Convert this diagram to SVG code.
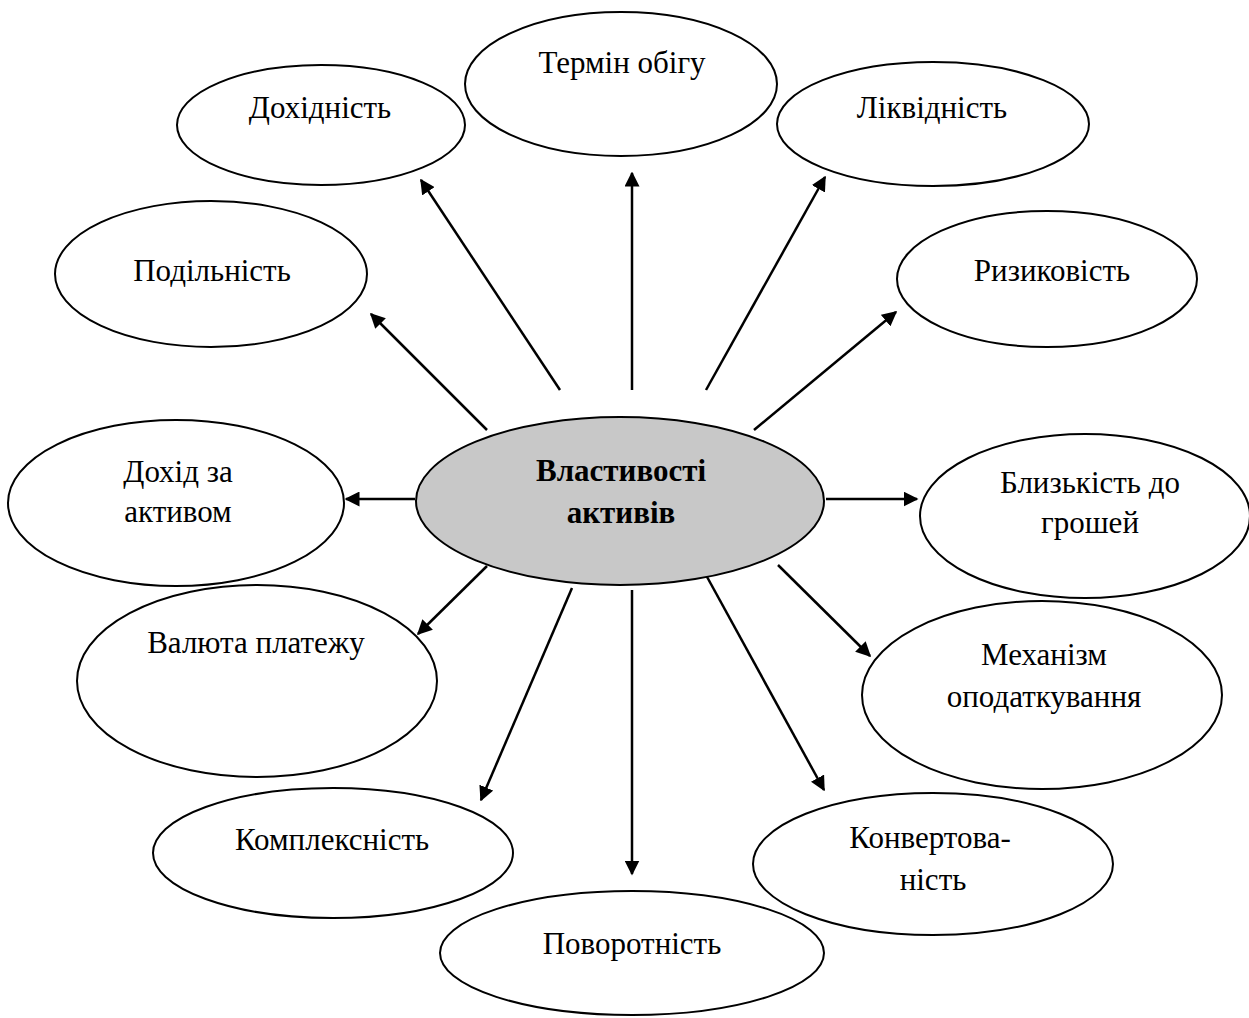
<svg xmlns="http://www.w3.org/2000/svg" width="1249" height="1018" viewBox="0 0 1249 1018">
<defs>
<style>
.n ellipse{fill:#fff;stroke:#000;stroke-width:2}
.c ellipse{fill:#c8c8c8;stroke:#000;stroke-width:2}
text{font-family:"Liberation Serif","Times New Roman",serif;font-size:31px;fill:#000;text-anchor:middle}
.b{font-weight:bold}
.e line{stroke:#000;stroke-width:2.5;marker-end:url(#a)}
</style>
<marker id="a" viewBox="0 0 10 10" refX="9" refY="5" markerWidth="6" markerHeight="6" markerUnits="strokeWidth" orient="auto">
<path d="M0,0 L10,5 L0,10 z" fill="#000"/>
</marker>
</defs>
<rect width="1249" height="1018" fill="#fff"/>
<g class="e">
<line x1="560" y1="390" x2="421" y2="180"/>
<line x1="632" y1="390" x2="632" y2="173"/>
<line x1="706" y1="390" x2="825" y2="177"/>
<line x1="487" y1="430" x2="371" y2="314"/>
<line x1="754" y1="430" x2="896" y2="312"/>
<line x1="415" y1="499" x2="346" y2="499"/>
<line x1="826" y1="499" x2="917" y2="499"/>
<line x1="487" y1="566" x2="418" y2="634"/>
<line x1="778" y1="565" x2="870" y2="656"/>
<line x1="572" y1="588" x2="481" y2="800"/>
<line x1="632" y1="590" x2="632" y2="874"/>
<line x1="706" y1="575" x2="824" y2="790"/>
</g>
<g id="center" class="c"><ellipse cx="620" cy="501" rx="204" ry="84"/><text class="b" x="621" y="481">Властивості</text><text class="b" x="621" y="523">активів</text></g>
<g id="termin" class="n"><ellipse cx="621" cy="84" rx="156" ry="72"/><text x="622" y="73">Термін обігу</text></g>
<g id="dokhidnist" class="n"><ellipse cx="321" cy="125" rx="144" ry="60"/><text x="320" y="118">Дохідність</text></g>
<g id="likvidnist" class="n"><ellipse cx="933" cy="124" rx="156" ry="62"/><text x="932" y="118">Ліквідність</text></g>
<g id="podilnist" class="n"><ellipse cx="211" cy="274" rx="156" ry="73"/><text x="212" y="281">Подільність</text></g>
<g id="ryzykovist" class="n"><ellipse cx="1047" cy="279" rx="150" ry="68"/><text x="1052" y="281">Ризиковість</text></g>
<g id="dokhid" class="n"><ellipse cx="176" cy="503" rx="168" ry="83"/><text x="178" y="482">Дохід за</text><text x="178" y="522">активом</text></g>
<g id="blyzkist" class="n"><ellipse cx="1085" cy="516" rx="165" ry="82"/><text x="1090" y="493">Близькість до</text><text x="1090" y="533">грошей</text></g>
<g id="valiuta" class="n"><ellipse cx="257" cy="681" rx="180" ry="96"/><text x="256" y="653">Валюта платежу</text></g>
<g id="mekhanizm" class="n"><ellipse cx="1042" cy="695" rx="180" ry="94"/><text x="1044" y="665">Механізм</text><text x="1044" y="707">оподаткування</text></g>
<g id="kompleksnist" class="n"><ellipse cx="333" cy="853" rx="180" ry="65"/><text x="332" y="850">Комплексність</text></g>
<g id="konvertovanist" class="n"><ellipse cx="933" cy="864" rx="180" ry="71"/><text x="930" y="848">Конвертова-</text><text x="933" y="890">ність</text></g>
<g id="povorotnist" class="n"><ellipse cx="632" cy="953" rx="192" ry="62"/><text x="632" y="954">Поворотність</text></g>
</svg>
